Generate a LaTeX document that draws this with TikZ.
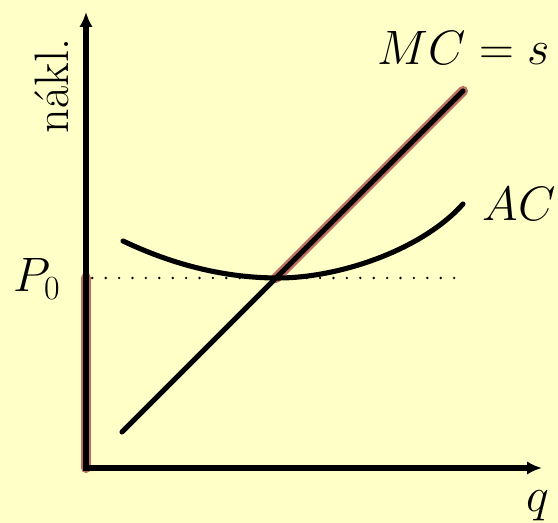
\RequirePackage{fix-cm}
\documentclass[tikz,border=0pt]{standalone}
\usepackage{xcolor}
\usepackage{tikz}
\usetikzlibrary{arrows.meta}
\definecolor{bgc}{RGB}{255,255,200}
\definecolor{hl}{RGB}{190,110,98}

\begin{document}
\begin{tikzpicture}[x=1cm,y=1cm]
\tikzset{
  ax/.style={line width=2.9pt,draw=black,{Latex[length=0.3cm,width=0.27cm]}-{Latex[length=0.3cm,width=0.27cm]}},
  cv/.style={line width=2.9pt,draw=black,line cap=round},
  hi/.style={line width=5.8pt,draw=hl,line cap=round},
  dt/.style={line width=1.5pt,line cap=round,dash pattern=on 0pt off 0.268cm,shorten <=0.126cm},
  lb/.style={font=\fontsize{27.5}{32}\selectfont,inner sep=0pt}
}
\fill[bgc] (0,0) rectangle (11.16,10.46);
\useasboundingbox (0,0) rectangle (11.16,10.46);
\coordinate (O) at (1.72,1.10);
\coordinate (yt) at (1.72,10.22);
\coordinate (xt) at (10.84,1.10);
\coordinate (p0) at (1.72,4.90);
\coordinate (d2) at (9.24,4.90);
\coordinate (mc1) at (2.44,1.82);
\coordinate (mc2) at (9.26,8.64);
\coordinate (e) at (5.52,4.90);
\coordinate (ac1) at (2.46,5.64);
\coordinate (acm) at (5.56,4.90);
\coordinate (ac2) at (9.26,6.38);
% highlighted parts
\draw[hi] (p0) -- (O);
\draw[hi] (e) -- (mc2);
\draw[dt] (p0) -- (d2);
\draw[ax] (yt) -- (O) -- (xt);
\draw[cv] (mc1) -- (mc2);
\draw[cv] (ac1) .. controls (3.49,5.15) and (4.53,4.90) .. (acm) .. controls (6.8,4.90) and (8.45,5.47) .. (ac2);
% labels
\node[lb,rotate=90,anchor=base] (ylab) at (1.36,8.74) {nákl.};
\node[lb,anchor=base] (p0l) at (0.74,4.62) {$P_0$};
\node[lb,anchor=base] (mcl) at (9.28,9.16) {$MC = s$};
\node[lb,anchor=base] (acl) at (10.38,6.04) {$AC$};
\node[lb,anchor=base] (ql) at (10.76,0.22) {$q$};
\end{tikzpicture}
\end{document}
